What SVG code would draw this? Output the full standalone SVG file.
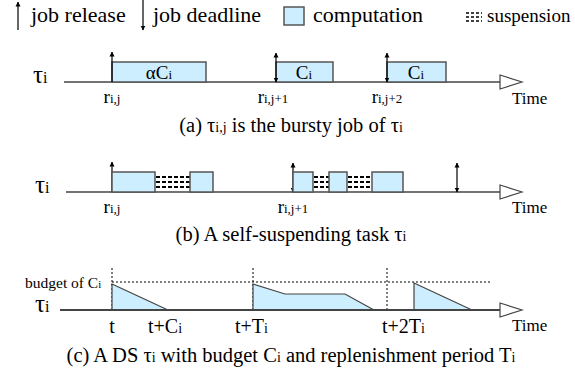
<svg xmlns="http://www.w3.org/2000/svg" width="575" height="379" viewBox="0 0 575 379">
<defs>
<marker id="ah" viewBox="0 0 10 10" refX="9" refY="5" markerWidth="5" markerHeight="6" orient="auto-start-reverse" markerUnits="userSpaceOnUse">
<path d="M0,0 L10,5 L0,10 z" fill="#000"/>
</marker>
<style>
text{font-family:"Liberation Serif","Times New Roman",serif;fill:#000}
.lg{font-size:22px}
.cap{font-size:20.5px}
.tau{font-size:25px}
.lab{font-size:19px}
.tm{font-size:17px}
.box{fill:#CCEEFF;stroke:#555;stroke-width:1.5}
.ax{stroke:#444;stroke-width:1.5;fill:none}
.tri{fill:#fff;stroke:#444;stroke-width:1.2}
.arr{stroke:#000;stroke-width:1.2;fill:none}
.sus{stroke:#000;stroke-width:2;stroke-dasharray:4 2;fill:none}
.lsus{stroke:#000;stroke-width:1.5;stroke-dasharray:3 2;fill:none}
.dot{stroke:#000;stroke-width:1;stroke-dasharray:2 2;fill:none}
.bud{fill:#CCEEFF;stroke:#444;stroke-width:1.2}
</style>
</defs>

<g id="legend">
<line class="arr" x1="18" y1="30" x2="18" y2="2" marker-end="url(#ah)"/>
<text class="lg" x="31" y="22">job release</text>
<line class="arr" x1="143" y1="0" x2="143" y2="30" marker-end="url(#ah)"/>
<text class="lg" x="153" y="22">job deadline</text>
<rect class="box" x="284" y="7" width="20" height="18"/>
<text class="lg" x="313" y="22">computation</text>
<line class="lsus" x1="466" y1="13" x2="482" y2="13"/>
<line class="lsus" x1="466" y1="17" x2="482" y2="17"/>
<line class="lsus" x1="466" y1="21" x2="482" y2="21"/>
<text x="487" y="22" font-size="19">suspension</text>
</g>

<g id="rowA">
<text class="tau" x="33" y="83">τ<tspan font-size="16">i</tspan></text>
<line class="ax" x1="64" y1="82" x2="501" y2="82"/>
<polygon class="tri" points="500,75 522,82 500,89"/>
<rect class="box" x="112" y="62" width="94" height="20"/>
<text class="lab" x="159" y="79" text-anchor="middle">αC<tspan font-size="13">i</tspan></text>
<line class="arr" x1="112" y1="82" x2="112" y2="52" marker-end="url(#ah)"/>
<rect class="box" x="276" y="62" width="57" height="20"/>
<text class="lab" x="304" y="79" text-anchor="middle">C<tspan font-size="13">i</tspan></text>
<line class="arr" x1="276" y1="53" x2="276" y2="82" marker-start="url(#ah)" marker-end="url(#ah)"/>
<rect class="box" x="387" y="62" width="59" height="20"/>
<text class="lab" x="416" y="79" text-anchor="middle">C<tspan font-size="13">i</tspan></text>
<line class="arr" x1="387" y1="53" x2="387" y2="82" marker-start="url(#ah)" marker-end="url(#ah)"/>
<text class="lab" x="112" y="103" text-anchor="middle">r<tspan font-size="13">i,j</tspan></text>
<text class="lab" x="273" y="103" text-anchor="middle">r<tspan font-size="13">i,j+1</tspan></text>
<text class="lab" x="387" y="103" text-anchor="middle">r<tspan font-size="13">i,j+2</tspan></text>
<text class="tm" x="512" y="104">Time</text>
<text class="cap" x="291" y="132" text-anchor="middle">(a) τ<tspan font-size="14">i,j</tspan> is the bursty job of τ<tspan font-size="14">i</tspan></text>
</g>

<g id="rowB">
<text class="tau" x="35" y="193">τ<tspan font-size="16">i</tspan></text>
<line class="ax" x1="66" y1="192" x2="501" y2="192"/>
<polygon class="tri" points="500,185 522,192 500,199"/>
<line class="arr" x1="112" y1="192" x2="112" y2="162" marker-end="url(#ah)"/>
<rect class="box" x="112" y="172" width="43" height="20"/>
<line class="sus" x1="156" y1="177" x2="190" y2="177"/>
<line class="sus" x1="156" y1="182" x2="190" y2="182"/>
<line class="sus" x1="156" y1="187" x2="190" y2="187"/>
<rect class="box" x="190" y="172" width="23" height="20"/>
<line class="arr" x1="293" y1="163" x2="293" y2="192" marker-start="url(#ah)" marker-end="url(#ah)"/>
<rect class="box" x="293" y="172" width="20" height="20"/>
<line class="sus" x1="314" y1="177" x2="329" y2="177"/>
<line class="sus" x1="314" y1="182" x2="329" y2="182"/>
<line class="sus" x1="314" y1="187" x2="329" y2="187"/>
<rect class="box" x="329" y="172" width="18" height="20"/>
<line class="sus" x1="348" y1="177" x2="372" y2="177"/>
<line class="sus" x1="348" y1="182" x2="372" y2="182"/>
<line class="sus" x1="348" y1="187" x2="372" y2="187"/>
<rect class="box" x="372" y="172" width="31" height="20"/>
<line class="arr" x1="457" y1="163" x2="457" y2="192" marker-start="url(#ah)" marker-end="url(#ah)"/>
<text class="lab" x="112" y="213" text-anchor="middle">r<tspan font-size="13">i,j</tspan></text>
<text class="lab" x="293" y="213" text-anchor="middle">r<tspan font-size="13">i,j+1</tspan></text>
<text class="tm" x="512" y="213">Time</text>
<text class="cap" x="291" y="241" text-anchor="middle">(b) A self-suspending task τ<tspan font-size="14">i</tspan></text>
</g>

<g id="rowC">
<text class="tau" x="35" y="312">τ<tspan font-size="16">i</tspan></text>
<text x="25" y="288" font-size="15.5">budget of C<tspan font-size="11">i</tspan></text>
<line class="dot" x1="112" y1="282" x2="492" y2="282"/>
<line class="dot" x1="112" y1="268" x2="112" y2="310"/>
<line class="dot" x1="253" y1="268" x2="253" y2="310"/>
<line class="dot" x1="387" y1="268" x2="387" y2="310"/>
<polygon class="bud" points="112,284 168,310 112,310"/>
<polygon class="bud" points="253,284 285,294 345,294 374,310 253,310"/>
<polygon class="bud" points="414,283 472,310 414,310"/>
<line class="ax" x1="60" y1="310" x2="501" y2="310" style="stroke-width:2"/>
<polygon class="tri" points="500,303 522,310 500,317"/>
<text x="112" y="333" text-anchor="middle" font-size="20">t</text>
<text x="148" y="333" font-size="20">t+C<tspan font-size="14">i</tspan></text>
<text x="235" y="333" font-size="20">t+T<tspan font-size="14">i</tspan></text>
<text x="382" y="333" font-size="20">t+2T<tspan font-size="14">i</tspan></text>
<text class="tm" x="512" y="331">Time</text>
<text class="cap" x="291" y="362" text-anchor="middle">(c) A DS τ<tspan font-size="14">i</tspan> with budget C<tspan font-size="14">i</tspan> and replenishment period T<tspan font-size="14">i</tspan></text>
</g>
</svg>
